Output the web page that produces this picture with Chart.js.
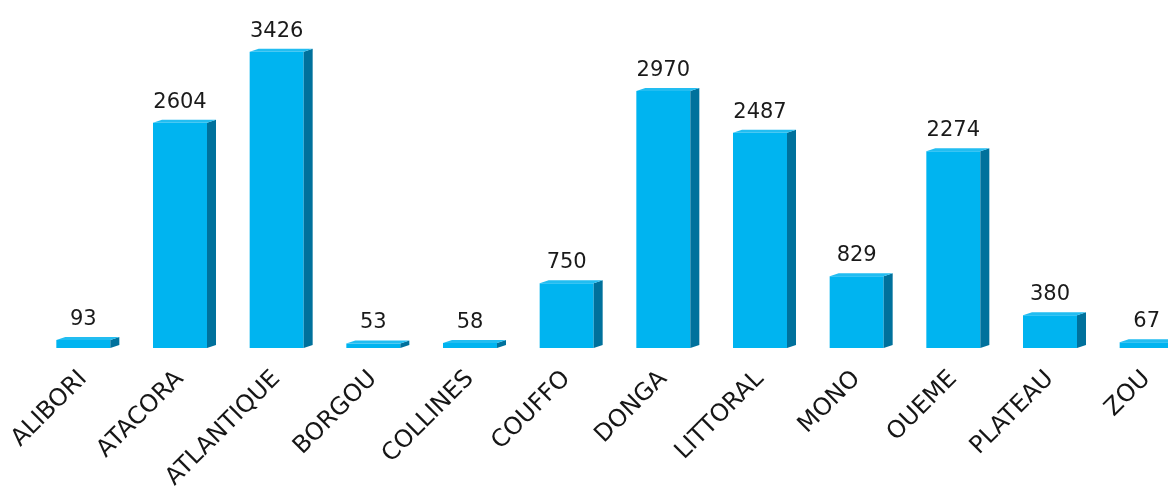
<!DOCTYPE html>
<html>
<head>
<meta charset="utf-8">
<script src="https://cdn.jsdelivr.net/npm/chart.js@4.4.1/dist/chart.umd.min.js"></script>
<style>
  html, body { margin: 0; padding: 0; background: #fff; overflow: hidden; }
  #wrap { width: 1200px; height: 486px; }
</style>
</head>
<body>
<div id="wrap"><canvas id="chart" width="1200" height="486"></canvas></div>
<script>
// departements and counts
const departements = ['ALIBORI', 'ATACORA', 'ATLANTIQUE', 'BORGOU', 'COLLINES', 'COUFFO',
  'DONGA', 'LITTORAL', 'MONO', 'OUEME', 'PLATEAU', 'ZOU'];
const effectifs = [93, 2604, 3426, 53, 58, 750, 2970, 2487, 829, 2274, 380, 67];

const FONT = 'DejaVu Sans';

// draws the side and top faces of each bar, then the value above it
const bar3d = {
  id: 'bar3d',
  afterDatasetsDraw(chart) {
    const ctx = chart.ctx;
    const meta = chart.getDatasetMeta(0);
    const dx = 9, dy = 3;
    ctx.save();
    meta.data.forEach((bar, i) => {
      const left = bar.x - bar.width / 2;
      const right = bar.x + bar.width / 2;
      const top = bar.y;
      const base = bar.base;

      // side
      ctx.fillStyle = '#00719c';
      ctx.beginPath();
      ctx.moveTo(right, top);
      ctx.lineTo(right + dx, top - dy);
      ctx.lineTo(right + dx, base - dy);
      ctx.lineTo(right, base);
      ctx.closePath();
      ctx.fill();

      // top
      ctx.fillStyle = '#22bdf1';
      ctx.beginPath();
      ctx.moveTo(left, top);
      ctx.lineTo(left + dx, top - dy);
      ctx.lineTo(right + dx, top - dy);
      ctx.lineTo(right, top);
      ctx.closePath();
      ctx.fill();

      // value
      ctx.fillStyle = '#1a1a1a';
      ctx.font = '21px "' + FONT + '"';
      ctx.textAlign = 'center';
      ctx.textBaseline = 'alphabetic';
      ctx.fillText(String(effectifs[i]), bar.x, top - 15);
    });
    ctx.restore();
  }
};

new Chart(document.getElementById('chart'), {
  type: 'bar',
  data: {
    labels: departements,
    datasets: [{
      data: effectifs,
      backgroundColor: '#00b4f0',
      borderWidth: 0,
      categoryPercentage: 1,
      barPercentage: 0.5586
    }]
  },
  options: {
    responsive: false,
    animation: false,
    layout: { padding: { left: 35, right: 5, top: 2, bottom: 0 } },
    plugins: { legend: { display: false }, tooltip: { enabled: false } },
    scales: {
      x: {
        grid: { display: false, drawTicks: false },
        border: { display: false },
        ticks: {
          autoSkip: false,
          minRotation: 45,
          maxRotation: 45,
          padding: 17,
          color: '#161616',
          font: { family: FONT, size: 24 }
        },
        afterFit(scale) {
          scale.height = 138;
          scale.paddingLeft = 0;
          scale.paddingRight = 0;
        }
      },
      y: {
        display: false,
        min: 0,
        max: 4000
      }
    }
  },
  plugins: [bar3d]
});
</script>
</body>
</html>
